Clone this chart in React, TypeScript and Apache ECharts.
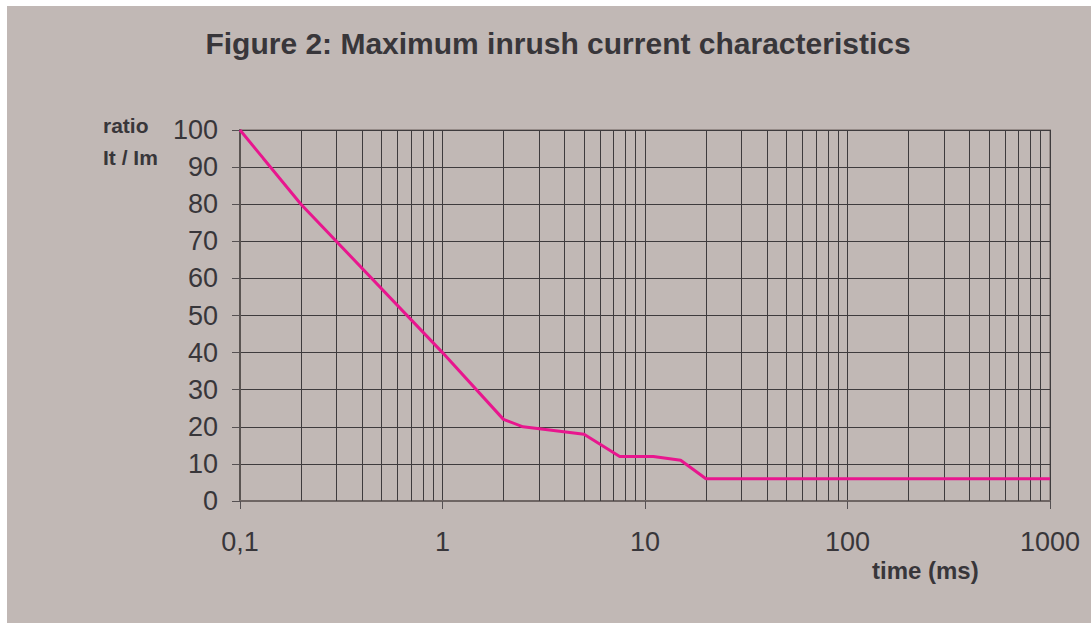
import React, { useEffect, useRef } from "react";
import * as echarts from "echarts";

const timeMs = [0.1, 0.2, 1, 2, 2.5, 5, 7.5, 11, 15, 20, 1000];
const ratio = [100, 80, 40, 22, 20, 18, 12, 12, 11, 6, 6];
const minorTicks = [
  0.2, 0.3, 0.4, 0.5, 0.6, 0.7, 0.8, 0.9,
  2, 3, 4, 5, 6, 7, 8, 9,
  20, 30, 40, 50, 60, 70, 80, 90,
  200, 300, 400, 500, 600, 700, 800, 900,
];
const titleText = "Figure 2: Maximum inrush current characteristics";
const yNameLines = ["ratio", "It / Im"];
const xName = "time (ms)";

const FONT = "'Liberation Sans', Arial, Helvetica, sans-serif";
const TEXT = "#38363a";
const GRIDC = "#3e3b3d";

export default function App() {
  const ref = useRef<HTMLDivElement>(null);
  useEffect(() => {
    if (!ref.current) return;
    const chart = echarts.init(ref.current, undefined, { renderer: "svg" });
    chart.setOption({
      animation: false,
      backgroundColor: "#c1b8b5",
      textStyle: { fontFamily: FONT },
      grid: {
        left: 233,
        right: 41,
        top: 124,
        bottom: 122,
        show: true,
        borderColor: "#958b88",
        borderWidth: 2,
        backgroundColor: "transparent",
      },
      graphic: [
        {
          type: "text",
          x: 551,
          y: 37,
          style: {
            text: titleText,
            font: `bold 30px ${FONT}`,
            fill: TEXT,
            textAlign: "center",
            textVerticalAlign: "middle",
          },
        },
        {
          type: "text",
          x: 96,
          y: 119,
          style: {
            text: yNameLines[0],
            font: `bold 21px ${FONT}`,
            fill: TEXT,
            textAlign: "left",
            textVerticalAlign: "middle",
          },
        },
        {
          type: "text",
          x: 96,
          y: 151,
          style: {
            text: yNameLines[1],
            font: `bold 21px ${FONT}`,
            fill: TEXT,
            textAlign: "left",
            textVerticalAlign: "middle",
          },
        },
        {
          type: "text",
          x: 865,
          y: 564,
          style: {
            text: xName,
            font: `bold 24px ${FONT}`,
            fill: TEXT,
            textAlign: "left",
            textVerticalAlign: "middle",
          },
        },
      ],
      xAxis: {
        type: "log",
        logBase: 10,
        min: 0.1,
        max: 1000,
        axisLine: { show: true, lineStyle: { color: "#6e6563", width: 2 } },
        axisTick: { show: true, length: 8, lineStyle: { color: "#555052", width: 1 } },
        splitLine: { show: true, lineStyle: { color: GRIDC, width: 1 } },
        axisLabel: {
          color: TEXT,
          fontSize: 27,
          fontFamily: FONT,
          margin: 27,
          formatter: (v: number) => {
            const n = Number(v);
            if (n < 1) return String(Math.round(n * 10) / 10).replace(".", ",");
            return String(Math.round(n));
          },
        },
      },
      yAxis: {
        type: "value",
        min: 0,
        max: 100,
        interval: 10,
        axisLine: { show: true, lineStyle: { color: "#5a5452", width: 2 } },
        axisTick: { show: true, length: 8, lineStyle: { color: "#555052", width: 1 } },
        splitLine: { show: true, lineStyle: { color: GRIDC, width: 1 } },
        axisLabel: { color: TEXT, fontSize: 27, fontFamily: FONT, margin: 22 },
      },
      series: [
        {
          type: "line",
          data: [],
          silent: true,
          z: 1,
          markLine: {
            silent: true,
            symbol: ["none", "none"],
            label: { show: false },
            lineStyle: { color: GRIDC, width: 1, type: "solid" },
            emphasis: { disabled: true },
            data: minorTicks.map((t) => ({ xAxis: t })),
          },
        },
        {
          type: "line",
          z: 5,
          data: timeMs.map((t, i) => [t, ratio[i]]),
          showSymbol: false,
          symbol: "none",
          lineStyle: { color: "#e8168e", width: 3 },
          itemStyle: { color: "#e8168e" },
        },
      ],
    });
    return () => chart.dispose();
  }, []);
  return (
    <div
      ref={ref}
      style={{ position: "fixed", left: 7, top: 6, width: 1084, height: 617 }}
    />
  );
}
